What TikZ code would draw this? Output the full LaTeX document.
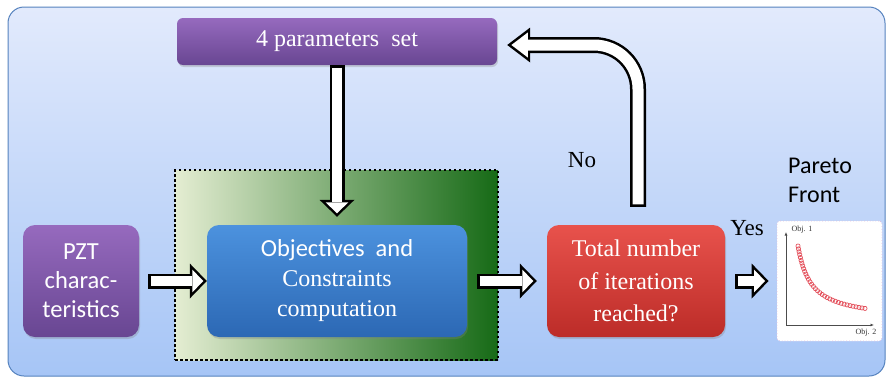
\documentclass[tikz,border=0pt]{standalone}
\usepackage{fontspec}
\setmainfont{Liberation Serif}
\newfontfamily\calibri{Carlito}
\usepackage{tikz}
\usetikzlibrary{arrows.meta,shadows}

\definecolor{bgtop}{RGB}{226,234,252}
\definecolor{bgbot}{RGB}{166,197,246}
\definecolor{bgline}{RGB}{85,130,190}
\definecolor{purptop}{RGB}{150,106,190}
\definecolor{purpbot}{RGB}{104,70,146}
\definecolor{bluetop}{RGB}{76,146,222}
\definecolor{bluebot}{RGB}{44,104,180}
\definecolor{redtop}{RGB}{232,82,76}
\definecolor{redbot}{RGB}{188,44,40}
\definecolor{greenleft}{RGB}{228,237,210}
\definecolor{greenmid}{RGB}{162,194,120}
\definecolor{greenright}{RGB}{22,106,22}
\definecolor{paretored}{RGB}{228,80,92}

\begin{document}
\begin{tikzpicture}[x=1pt,y=-1pt,
   box/.style={rounded corners=12pt, text=white, align=center, inner sep=0pt,
      drop shadow={shadow xshift=1pt, shadow yshift=-2pt, opacity=0.3}},
   purplebox/.style={box, top color=purptop, bottom color=purpbot},
   bluebox/.style={box, top color=bluetop, bottom color=bluebot},
   redbox/.style={box, top color=redtop, bottom color=redbot},
   serif/.style={font=\fontsize{24}{32.5}\selectfont},
   sans/.style={font=\calibri\fontsize{24.5}{29}\selectfont},
   arrout/.style={line width=15pt, black, -{Triangle[length=17pt, width=35pt, line width=0pt]}},
   arrin/.style={line width=10pt, white, -{Triangle[length=11pt, width=22.7pt, line width=0pt]}},
   arroutlong/.style={line width=16pt, black, -{Triangle[length=23pt, width=35pt, line width=0pt]}},
   arrinlong/.style={line width=11pt, white, -{Triangle[length=16.4pt, width=25pt, line width=0pt]}},
   axis/.style={line width=0.8pt, black!70, -{Latex[length=3.5pt, width=3pt]}},
   tiny/.style={font=\fontsize{8}{8}\selectfont, inner sep=0pt, black!80}]

   \useasboundingbox (0,0) rectangle (887,378);

   % frame
   \draw[bgline, line width=1pt, top color=bgtop, bottom color=bgbot, rounded corners=16pt]
      (8,7) rectangle (885,376);

   % dotted zone
   \node[minimum width=323pt, minimum height=190pt, left color=greenleft, middle color=greenmid,
      right color=greenright, draw=black, line width=2.5pt, dash pattern=on 2.5pt off 2.5pt]
      (zone) at (336.5,265) {};

   % boxes
   \node[purplebox, rounded corners=6pt, minimum width=320pt, minimum height=47pt, serif]
      (param) at (337,41.5) {4 parameters\ \ set};
   \node[purplebox, minimum width=116pt, minimum height=112pt, sans]
      (pzt) at (81,281) {PZT\\charac-\\teristics};
   \node[bluebox, minimum width=260pt, minimum height=112pt, font=\fontsize{24}{30}\selectfont]
      (obj) at (337,281) {{\calibri\fontsize{24.5}{30}\selectfont Objectives\ \ and}\\Constraints\\computation};
   \node[redbox, minimum width=178pt, minimum height=112pt, serif]
      (total) at (636,281) {Total number\\of iterations\\reached?};

   % pareto front plot
   \node[fill=white, draw=violet!25, line width=0.8pt, dotted, rounded corners=3pt,
      minimum width=105pt, minimum height=120pt] (front) at (829.5,281) {};
   \draw[axis] (786,325) -- (786,232);
   \draw[axis] (786,325) -- (874,325);
   \node[tiny] (obj1) at (802,229.5) {Obj. 1};
   \node[tiny] (obj2) at (866,333) {Obj. 2};
   \gdef\uu{13}
   \foreach \i in {0,...,34}{
      \draw[paretored, line width=0.7pt] ({785+\uu},{320.5-968/\uu}) circle (2.1pt);
      \pgfmathparse{\uu+3.05/sqrt(1+(968/(\uu*\uu))^2)}
      \xdef\uu{\pgfmathresult}
   }

   % labels
   \node[sans, font=\calibri\fontsize{24}{29}\selectfont, align=left, anchor=north west, inner sep=0pt]
      (pareto) at (788,158) {Pareto\\Front};
   \node[font=\fontsize{23}{23}\selectfont, anchor=base, inner sep=0pt] (yes) at (747,235) {Yes};
   \node[font=\fontsize{23}{23}\selectfont, anchor=base, inner sep=0pt] (no) at (582,167) {No};

   % arrows
   \draw[arrout, shorten <=9pt] (pzt) -- (obj);
   \draw[arrin, shorten <=11.5pt, shorten >=3.5pt] (pzt) -- (obj);

   \draw[arrout, shorten <=10pt, shorten >=10pt] (obj) -- (total);
   \draw[arrin, shorten <=12.5pt, shorten >=13.5pt] (obj) -- (total);

   \draw[arrout, shorten <=10pt, shorten >=8pt] (total) -- (front);
   \draw[arrin, shorten <=12.5pt, shorten >=11.5pt] (total) -- (front);

   \draw[arrout, shorten >=8pt] (param) -- (obj);
   \draw[arrin, shorten <=2.5pt, shorten >=11.5pt] (param) -- (obj);

   \draw[arroutlong, rounded corners=44pt, shorten <=18pt, shorten >=10pt]
      ([xshift=2pt]total.north) |- ([yshift=-3.5pt]param.east);
   \draw[arrinlong, rounded corners=44pt, shorten <=20.5pt, shorten >=14.2pt]
      ([xshift=2pt]total.north) |- ([yshift=-3.5pt]param.east);

\end{tikzpicture}
\end{document}
